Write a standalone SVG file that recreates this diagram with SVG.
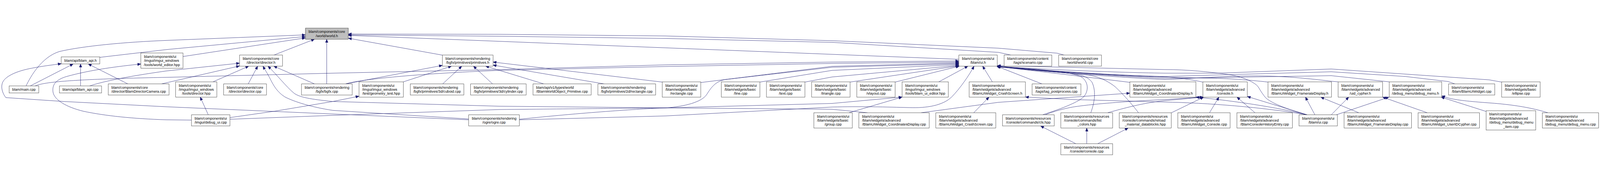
<svg xmlns="http://www.w3.org/2000/svg" width="5769" height="468" viewBox="0 0 5769 468">
<style>
svg{width:100vw;height:100vh}
.node rect{fill:#ffffff;stroke:#333333;stroke-width:1.1}
.root rect{fill:#bfbfbf}
text{font-family:"Liberation Sans",Arial,Helvetica,sans-serif;font-size:13px;fill:#000000}
.l{text-anchor:start}
.c{text-anchor:middle}
#edges path{fill:none;stroke:#191970;stroke-width:1.1;marker-end:url(#arr)}
</style>
<defs>
<marker id="arr" viewBox="0 0 12 10" refX="12" refY="5" markerWidth="12" markerHeight="10" markerUnits="userSpaceOnUse" orient="auto">
<path d="M0,0 L12,5 L0,10 Z" fill="#191970" stroke="#191970" stroke-width="0.8"/>
</marker>
</defs>
<rect x="0" y="0" width="5769" height="468" fill="#ffffff"/>
<g id="edges">
<path id="e1" d="M94,214 C110,180 150,110 214,90 C300,70 450,56 600,50 L1101,30"/>
<path id="e2" d="M360,111 L600,83 L1101,36"/>
<path id="e3" d="M660,108 L1101,41"/>
<path id="e4" d="M988,102.7 L1134,45.7"/>
<path id="e5" d="M1178,206.7 L1178,45.7"/>
<path id="e6" d="M1595,103 L1256,42"/>
<path id="e7" d="M3457,118 L1256,32"/>
<path id="e8" d="M3645,102.7 L3600,93 L3000,57 L2400,43 L1800,35 L1256,30"/>
<path id="e9" d="M3837,102.7 L3812,96 L3600,78 L3000,51 L2400,34 L1800,28 L1256,27"/>
<path id="e10" d="M109,214 L264,134.8"/>
<path id="e11" d="M290.5,214 L290.5,134.8"/>
<path id="e12" d="M461,206.7 L318,134.8"/>
<path id="e13" d="M1689.8,336 L1200,315 L600,289 L230,270 L21,256 C10,242 3,222 8,205 C15,180 60,160 115,150 C150,143 190,138 221,134"/>
<path id="e14" d="M690.3,337 L600,336 C480,332 380,322 300,305 C240,290 195,265 191,235 C188,210 200,192 240,180 C330,155 430,143 507.8,135"/>
<path id="e15" d="M323,214 C350,205 420,185 600,160 L863.7,132"/>
<path id="e16" d="M582,206.7 L863.7,142"/>
<path id="e17" d="M768,199.2 L897,142.7"/>
<path id="e18" d="M895,206.7 L929,142.7"/>
<path id="e19" d="M1689.8,333 L1200,302 C1120,290 1060,270 1030,255 C1000,238 985,210 975,190 C965,170 955,155 948,142.7"/>
<path id="e20" d="M3128,310.5 L3000,298 L2400,293 L1800,287 L1200,270 C1120,262 1080,255 1060,240 C1030,215 1000,175 966,142.7"/>
<path id="e21" d="M1134,206.7 L987,142.7"/>
<path id="e22" d="M751,318 L722,254.2"/>
<path id="e23" d="M1246,206.7 L1594.9,140"/>
<path id="e24" d="M1454.5,199.2 L1628,142.7"/>
<path id="e25" d="M1596,206.7 L1665,142.7"/>
<path id="e26" d="M1776,206.7 L1707,142.7"/>
<path id="e27" d="M1961,206.7 L1751,142.7"/>
<path id="e28" d="M2179,206.7 L1777.8,139"/>
<path id="e29" d="M2387.7,200 L1777.8,128"/>
<path id="e30" d="M829.2,328 L990,305 L1200,270 L1294.5,251"/>
<path id="e31" d="M126,214 C160,200 250,190 600,183 L1200,168 L1800,155 L2400,138 L3000,128 L3457.3,124"/>
<path id="e32" d="M1246,206.7 C1300,190 1500,170 1800,158 L2400,144 L3000,133 L3457.3,128"/>
<path id="e33" d="M2526.7,201.7 L3000,143.3 L3457.3,131"/>
<path id="e34" d="M829.2,334 L1200,320 L1800,299 C2100,296 2300,294 2400,293 C2470,288 2530,272 2548,245 C2565,218 2580,198 2614,191 L3000,146.7 L3457.3,134"/>
<path id="e35" d="M2739.8,200 L3000,158 L3457.3,137"/>
<path id="e36" d="M2902.4,200 L3000,181.7 L3457.3,140"/>
<path id="e37" d="M3065,200 L3457.3,141.5"/>
<path id="e38" d="M3227.7,200 L3459,142.7"/>
<path id="e39" d="M3385,199.2 L3490,142.7"/>
<path id="e40" d="M1872.7,336 L2400,322 L3000,290 C3100,287 3200,290 3280,292 C3340,294 3400,285 3432,253 C3460,225 3495,175 3512,142.7"/>
<path id="e41" d="M3578,199.2 L3543,142.7"/>
<path id="e42" d="M3757,206.7 L3594,143"/>
<path id="e43" d="M3759,318 C3830,295 3895,270 3910,250 C3925,230 3925,200 3900,182 C3860,160 3700,150 3595.8,145"/>
<path id="e44" d="M3933,310.5 C3948,270 3952,230 3937,200 C3920,178 3890,172 3850,168 C3760,160 3650,150 3595.8,145"/>
<path id="e45" d="M4105,310.5 C4070,265 4040,235 4021,217 C3980,185 3940,175 3906,173 C3800,163 3660,150 3595.8,145"/>
<path id="e46" d="M4073.7,201 L3860,175 L3595.8,144"/>
<path id="e47" d="M4337,200 C4290,190 4240,183 4200,182 C4000,178 3700,155 3595.8,144"/>
<path id="e48" d="M4572,200 C4500,192 4420,187 4391,187 L4200,182 C4000,176 3700,155 3595.8,144"/>
<path id="e49" d="M4825,199.2 L4800,197 C4700,185 4600,176 4500,178 C4380,180 4250,190 4200,191 C4000,182 3700,156 3595.8,144"/>
<path id="e50" d="M5009,199.2 L4800,177 L4200,187 C4000,178 3700,155 3595.8,143.5"/>
<path id="e51" d="M5246,206.7 L5221,198 L5068,180 L4800,163 L4544,170 L4200,180 C4000,175 3700,154 3595.8,143"/>
<path id="e52" d="M5414.3,200 L5369,192 L4800,153 L4391,168 L4200,168 C4000,165 3700,152 3595.8,142"/>
<path id="e53" d="M4713,318 C4650,300 4590,280 4564,257 C4545,235 4540,220 4533,213 C4520,200 4480,180 4430,173 C4360,163 4280,155 4200,155 L3595.8,141"/>
<path id="e54" d="M1872.7,334 C2100,310 2300,297 2400,293 L3000,277 L3252.5,254"/>
<path id="e55" d="M3061,310.5 L3252.5,254.2"/>
<path id="e56" d="M3511,310.5 L3566,254.2"/>
<path id="e57" d="M3321,310.5 L3600,273 L4073.7,240"/>
<path id="e58" d="M4713,318 C4550,290 4350,275 4200,272 L3868,263 L3697.2,254"/>
<path id="e59" d="M4713,318 C4600,290 4450,268 4312,254.2"/>
<path id="e60" d="M4713,318 L4497.3,252"/>
<path id="e61" d="M3768,318 C3800,305 3840,295 3868,290 C3930,280 4050,270 4200,263 L4337,254.2"/>
<path id="e62" d="M3994,310.5 C4050,295 4120,275 4200,267 L4339,254.2"/>
<path id="e63" d="M4223,311 L4340,254.2"/>
<path id="e64" d="M4361,310.5 L4395,254.2"/>
<path id="e65" d="M4525,310.5 L4460,254.2"/>
<path id="e66" d="M4741,318 L4707,254.2"/>
<path id="e67" d="M4899,310.5 L4800,270 L4762,254.2"/>
<path id="e68" d="M4800,318 L4863,254.2"/>
<path id="e69" d="M4818,318 L5008,254.2"/>
<path id="e70" d="M5146,310.5 L4985,254.2"/>
<path id="e71" d="M5359,306 L5196,254.2"/>
<path id="e72" d="M5581,310.5 C5540,298 5480,283 5369,275 C5300,270 5250,265 5221,257 L5198.3,250"/>
<path id="e73" d="M3879,422 L3752,358.3"/>
<path id="e74" d="M3918.4,422 L3918.4,365.5"/>
<path id="e75" d="M3958,422 L4068,365.5"/>
</g>
<g id="n1" class="node root"><rect x="1101.3" y="5.7" width="154.6" height="40"/><text class="l" x="1112.8" y="23">blam/components/core</text><text class="c" x="1178.6" y="37.7">/world/world.h</text></g>
<g id="n2" class="node"><rect x="220.8" y="109.5" width="138.9" height="25.3"/><text class="c" x="290.3" y="126.8">blam/api/blam_api.h</text></g>
<g id="n3" class="node"><rect x="507.8" y="95.2" width="151.9" height="55"/><text class="l" x="519.3" y="112.5">blam/components/ui</text><text class="l" x="519.3" y="127.2">/imgui/imgui_windows</text><text class="c" x="583.8" y="141.8">/tools/world_editor.hpp</text></g>
<g id="n4" class="node"><rect x="863.7" y="102.7" width="154.9" height="40"/><text class="l" x="875.2" y="120">blam/components/core</text><text class="c" x="941.2" y="134.7">/director/director.h</text></g>
<g id="n5" class="node"><rect x="1594.9" y="102.7" width="182.9" height="40"/><text class="l" x="1606.4" y="120">blam/components/rendering</text><text class="c" x="1686.4" y="134.7">/bgfx/primitives/primitives.h</text></g>
<g id="n6" class="node"><rect x="3457.3" y="102.7" width="138.5" height="40"/><text class="l" x="3468.8" y="120">blam/components/ui</text><text class="c" x="3526.6" y="134.7">/blam/ui.h</text></g>
<g id="n7" class="node"><rect x="3620.3" y="102.7" width="172.2" height="40"/><text class="l" x="3631.8" y="120">blam/components/content</text><text class="c" x="3706.4" y="134.7">/tags/scenario.cpp</text></g>
<g id="n8" class="node"><rect x="3817" y="102.7" width="154.6" height="40"/><text class="l" x="3828.5" y="120">blam/components/core</text><text class="c" x="3894.3" y="134.7">/world/world.cpp</text></g>
<g id="n9" class="node"><rect x="32.9" y="214" width="106.8" height="25.3"/><text class="c" x="86.3" y="231.3">blam/main.cpp</text></g>
<g id="n10" class="node"><rect x="214.3" y="214" width="151.9" height="25.3"/><text class="c" x="290.3" y="231.3">blam/api/blam_api.cpp</text></g>
<g id="n11" class="node"><rect x="390.3" y="206.7" width="219.3" height="40"/><text class="l" x="401.8" y="224">blam/components/core</text><text class="c" x="500" y="238.7">/director/BlamDirectorCamera.cpp</text></g>
<g id="n12" class="node"><rect x="633.3" y="199.2" width="148.5" height="55"/><text class="l" x="644.8" y="216.5">blam/components/ui</text><text class="l" x="644.8" y="231.2">/imgui/imgui_windows</text><text class="c" x="707.6" y="245.8">/tools/director.hpp</text></g>
<g id="n13" class="node"><rect x="806.2" y="206.7" width="154.6" height="40"/><text class="l" x="817.7" y="224">blam/components/core</text><text class="c" x="883.5" y="238.7">/director/director.cpp</text></g>
<g id="n14" class="node"><rect x="1087.1" y="206.7" width="182.9" height="40"/><text class="l" x="1098.6" y="224">blam/components/rendering</text><text class="c" x="1178.6" y="238.7">/bgfx/bgfx.cpp</text></g>
<g id="n15" class="node"><rect x="1294.5" y="199.2" width="160" height="55"/><text class="l" x="1306" y="216.5">blam/components/ui</text><text class="l" x="1306" y="231.2">/imgui/imgui_windows</text><text class="c" x="1374.5" y="245.8">/test/geometry_test.hpp</text></g>
<g id="n16" class="node"><rect x="1479.3" y="206.7" width="193.3" height="40"/><text class="l" x="1490.8" y="224">blam/components/rendering</text><text class="c" x="1576" y="238.7">/bgfx/primitives/3d/cuboid.cpp</text></g>
<g id="n17" class="node"><rect x="1696.7" y="206.7" width="200.5" height="40"/><text class="l" x="1708.2" y="224">blam/components/rendering</text><text class="c" x="1797" y="238.7">/bgfx/primitives/3d/cylinder.cpp</text></g>
<g id="n18" class="node"><rect x="1921.7" y="206.7" width="209.7" height="40"/><text class="l" x="1933.2" y="224">blam/api/v1/types/world</text><text class="c" x="2026.6" y="238.7">/BlamWorldObject_Primitive.cpp</text></g>
<g id="n19" class="node"><rect x="2155.9" y="206.7" width="208.1" height="40"/><text class="l" x="2167.4" y="224">blam/components/rendering</text><text class="c" x="2260" y="238.7">/bgfx/primitives/2d/rectangle.cpp</text></g>
<g id="n20" class="node"><rect x="2387.7" y="199.2" width="139" height="55"/><text class="l" x="2399.2" y="216.5">blam/components/ui</text><text class="l" x="2399.2" y="231.2">/blam/widgets/basic</text><text class="c" x="2457.2" y="245.8">/rectangle.cpp</text></g>
<g id="n21" class="node"><rect x="2600.9" y="199.2" width="138.9" height="55"/><text class="l" x="2612.4" y="216.5">blam/components/ui</text><text class="l" x="2612.4" y="231.2">/blam/widgets/basic</text><text class="c" x="2670.4" y="245.8">/line.cpp</text></g>
<g id="n22" class="node"><rect x="2763.5" y="199.2" width="138.9" height="55"/><text class="l" x="2775" y="216.5">blam/components/ui</text><text class="l" x="2775" y="231.2">/blam/widgets/basic</text><text class="c" x="2833" y="245.8">/text.cpp</text></g>
<g id="n23" class="node"><rect x="2926.5" y="199.2" width="138.5" height="55"/><text class="l" x="2938" y="216.5">blam/components/ui</text><text class="l" x="2938" y="231.2">/blam/widgets/basic</text><text class="c" x="2995.8" y="245.8">/triangle.cpp</text></g>
<g id="n24" class="node"><rect x="3089.2" y="199.2" width="138.5" height="55"/><text class="l" x="3100.7" y="216.5">blam/components/ui</text><text class="l" x="3100.7" y="231.2">/blam/widgets/basic</text><text class="c" x="3158.5" y="245.8">/vlayout.cpp</text></g>
<g id="n25" class="node"><rect x="3252.5" y="199.2" width="166.9" height="55"/><text class="l" x="3264" y="216.5">blam/components/ui</text><text class="l" x="3264" y="231.2">/imgui/imgui_windows</text><text class="c" x="3336" y="245.8">/tools/blam_ui_editor.hpp</text></g>
<g id="n26" class="node"><rect x="3494.4" y="199.2" width="202.8" height="55"/><text class="l" x="3505.9" y="216.5">blam/components/ui</text><text class="l" x="3505.9" y="231.2">/blam/widgets/advanced</text><text class="c" x="3595.8" y="245.8">/BlamUIWidget_CrashScreen.h</text></g>
<g id="n27" class="node"><rect x="3721.3" y="206.7" width="176" height="40"/><text class="l" x="3732.8" y="224">blam/components/content</text><text class="c" x="3809.3" y="238.7">/tags/tag_postprocess.cpp</text></g>
<g id="n28" class="node"><rect x="4073.7" y="199.2" width="238.4" height="55"/><text class="l" x="4085.2" y="216.5">blam/components/ui</text><text class="l" x="4085.2" y="231.2">/blam/widgets/advanced</text><text class="c" x="4192.9" y="245.8">/BlamUIWidget_CoordinatesDisplay.h</text></g>
<g id="n29" class="node"><rect x="4337" y="199.2" width="160.3" height="55"/><text class="l" x="4348.5" y="216.5">blam/components/ui</text><text class="l" x="4348.5" y="231.2">/blam/widgets/advanced</text><text class="c" x="4417.2" y="245.8">/console.h</text></g>
<g id="n30" class="node"><rect x="4571.9" y="199.2" width="229.1" height="55"/><text class="l" x="4583.4" y="216.5">blam/components/ui</text><text class="l" x="4583.4" y="231.2">/blam/widgets/advanced</text><text class="c" x="4686.5" y="245.8">/BlamUIWidget_FramerateDisplay.h</text></g>
<g id="n31" class="node"><rect x="4824.9" y="199.2" width="160.3" height="55"/><text class="l" x="4836.4" y="216.5">blam/components/ui</text><text class="l" x="4836.4" y="231.2">/blam/widgets/advanced</text><text class="c" x="4905" y="245.8">/uid_cypher.h</text></g>
<g id="n32" class="node"><rect x="5008.9" y="199.2" width="189.4" height="55"/><text class="l" x="5020.4" y="216.5">blam/components/ui</text><text class="l" x="5020.4" y="231.2">/blam/widgets/advanced</text><text class="c" x="5103.6" y="245.8">/debug_menu/debug_menu.h</text></g>
<g id="n33" class="node"><rect x="5222.8" y="206.7" width="166.9" height="40"/><text class="l" x="5234.3" y="224">blam/components/ui</text><text class="c" x="5306.3" y="238.7">/blam/BlamUIWidget.cpp</text></g>
<g id="n34" class="node"><rect x="5414.3" y="199.2" width="139" height="55"/><text class="l" x="5425.8" y="216.5">blam/components/ui</text><text class="l" x="5425.8" y="231.2">/blam/widgets/basic</text><text class="c" x="5483.8" y="245.8">/ellipse.cpp</text></g>
<g id="n35" class="node"><rect x="690.3" y="318" width="138.9" height="40"/><text class="l" x="701.8" y="335.3">blam/components/ui</text><text class="c" x="759.8" y="350">/imgui/debug_ui.cpp</text></g>
<g id="n36" class="node"><rect x="1689.8" y="318" width="182.9" height="40"/><text class="l" x="1701.3" y="335.3">blam/components/rendering</text><text class="c" x="1781.3" y="350">/ogre/ogre.cpp</text></g>
<g id="n37" class="node"><rect x="2934.6" y="310.5" width="138.5" height="55"/><text class="l" x="2946.1" y="327.8">blam/components/ui</text><text class="l" x="2946.1" y="342.5">/blam/widgets/basic</text><text class="c" x="3003.9" y="357.1">/group.cpp</text></g>
<g id="n38" class="node"><rect x="3096.8" y="310.5" width="253.7" height="55"/><text class="l" x="3108.3" y="327.8">blam/components/ui</text><text class="l" x="3108.3" y="342.5">/blam/widgets/advanced</text><text class="c" x="3223.7" y="357.1">/BlamUIWidget_CoordinatesDisplay.cpp</text></g>
<g id="n39" class="node"><rect x="3374.2" y="310.5" width="216.2" height="55"/><text class="l" x="3385.7" y="327.8">blam/components/ui</text><text class="l" x="3385.7" y="342.5">/blam/widgets/advanced</text><text class="c" x="3482.3" y="357.1">/BlamUIWidget_CrashScreen.cpp</text></g>
<g id="n40" class="node"><rect x="3614.5" y="318" width="186.8" height="40"/><text class="l" x="3626" y="335.3">blam/components/resources</text><text class="c" x="3707.9" y="350">/console/commands/cls.hpp</text></g>
<g id="n41" class="node"><rect x="3825" y="310.5" width="186.7" height="55"/><text class="l" x="3836.5" y="327.8">blam/components/resources</text><text class="l" x="3836.5" y="342.5">/console/commands/list</text><text class="c" x="3918.4" y="357.1">_colors.hpp</text></g>
<g id="n42" class="node"><rect x="4035.5" y="310.5" width="187.5" height="55"/><text class="l" x="4047" y="327.8">blam/components/resources</text><text class="l" x="4047" y="342.5">/console/commands/reload</text><text class="c" x="4129.3" y="357.1">_material_datablocks.hpp</text></g>
<g id="n43" class="node"><rect x="4246.7" y="310.5" width="188.6" height="55"/><text class="l" x="4258.2" y="327.8">blam/components/ui</text><text class="l" x="4258.2" y="342.5">/blam/widgets/advanced</text><text class="c" x="4341" y="357.1">/BlamUIWidget_Console.cpp</text></g>
<g id="n44" class="node"><rect x="4459.8" y="310.5" width="200.2" height="55"/><text class="l" x="4471.3" y="327.8">blam/components/ui</text><text class="l" x="4471.3" y="342.5">/blam/widgets/advanced</text><text class="c" x="4559.9" y="357.1">/BlamConsoleHistoryEntry.cpp</text></g>
<g id="n45" class="node"><rect x="4683.7" y="318" width="138.5" height="40"/><text class="l" x="4695.2" y="335.3">blam/components/ui</text><text class="c" x="4753" y="350">/blam/ui.cpp</text></g>
<g id="n46" class="node"><rect x="4846.3" y="310.5" width="243" height="55"/><text class="l" x="4857.8" y="327.8">blam/components/ui</text><text class="l" x="4857.8" y="342.5">/blam/widgets/advanced</text><text class="c" x="4967.8" y="357.1">/BlamUIWidget_FramerateDisplay.cpp</text></g>
<g id="n47" class="node"><rect x="5113" y="310.5" width="221.6" height="55"/><text class="l" x="5124.5" y="327.8">blam/components/ui</text><text class="l" x="5124.5" y="342.5">/blam/widgets/advanced</text><text class="c" x="5223.8" y="357.1">/BlamUIWidget_UserIDCypher.cpp</text></g>
<g id="n48" class="node"><rect x="5358.3" y="303.2" width="179" height="69.7"/><text class="l" x="5369.8" y="320.5">blam/components/ui</text><text class="l" x="5369.8" y="335.2">/blam/widgets/advanced</text><text class="l" x="5369.8" y="349.8">/debug_menu/debug_menu</text><text class="c" x="5447.8" y="364.5">_item.cpp</text></g>
<g id="n49" class="node"><rect x="5561" y="310.5" width="203" height="55"/><text class="l" x="5572.5" y="327.8">blam/components/ui</text><text class="l" x="5572.5" y="342.5">/blam/widgets/advanced</text><text class="c" x="5662.5" y="357.1">/debug_menu/debug_menu.cpp</text></g>
<g id="n50" class="node"><rect x="3825" y="422" width="186.7" height="40"/><text class="l" x="3836.5" y="439.3">blam/components/resources</text><text class="c" x="3918.4" y="454">/console/console.cpp</text></g>
</svg>
